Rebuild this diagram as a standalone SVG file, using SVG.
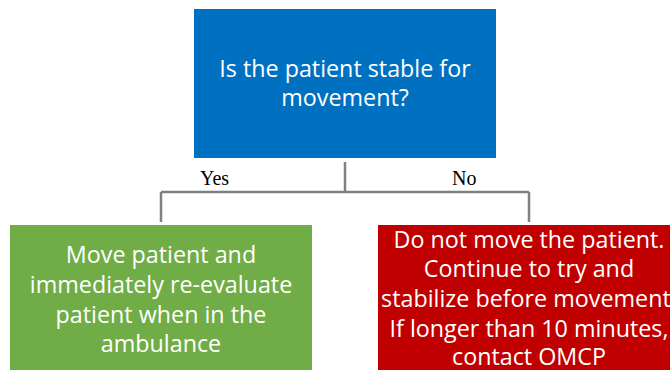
<svg xmlns="http://www.w3.org/2000/svg" width="670" height="370" viewBox="0 0 670 370">
<style>
.t{font-family:"Open Sans","Noto Sans",sans-serif;font-size:23.3px;fill:#fff;text-anchor:middle}
.l{font-family:"Liberation Serif",serif;font-size:20px;fill:#000}
.c{stroke:#808080;stroke-width:2.5;fill:none}
</style>
<rect width="670" height="370" fill="#fff"/>
<g id="connectors">
<path class="c" d="M345 162V192M161 192H529M161 192V222M529 192V222"/>
<text class="l" x="200" y="185">Yes</text>
<text class="l" x="452" y="185">No</text>
</g>
<g id="question">
<rect x="194" y="9" width="302" height="149" fill="#0070C0"/>
<text class="t" x="345" y="77">Is the patient stable for</text>
<text class="t" x="345" y="106">movement?</text>
</g>
<g id="yes">
<rect x="10" y="225" width="302" height="150" fill="#70AD47"/>
<text class="t" x="161" y="263">Move patient and</text>
<text class="t" x="161" y="293">immediately re-evaluate</text>
<text class="t" x="161" y="323">patient when in the</text>
<text class="t" x="161" y="352">ambulance</text>
</g>
<g id="no">
<rect x="378" y="225" width="302" height="150" fill="#C00000"/>
<text class="t" x="529" y="248">Do not move the patient.</text>
<text class="t" x="529" y="277">Continue to try and</text>
<text class="t" x="529" y="307">stabilize before movement.</text>
<text class="t" x="529" y="337">If longer than 10 minutes,</text>
<text class="t" x="529" y="365">contact OMCP</text>
</g>
</svg>
